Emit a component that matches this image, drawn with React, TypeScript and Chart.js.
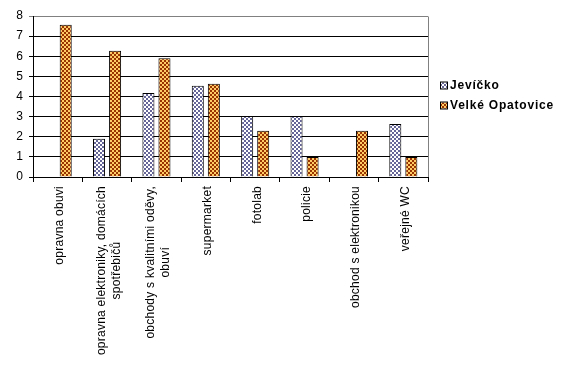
import React, { useEffect, useRef } from "react";
import { Chart, registerables } from "chart.js";

Chart.register(...registerables);

const categories: string[][] = [
  ["opravna obuvi"],
  ["opravna elektroniky, domácích", "spotřebičů"],
  ["obchody s kvalitními oděvy,", "obuví"],
  ["supermarket"],
  ["fotolab"],
  ["policie"],
  ["obchod s elektronikou"],
  ["veřejné WC"],
];
const seriesNames = ["Jevíčko", "Velké Opatovice"];
const jevicko: (number | null)[] = [null, 1.9, 4.17, 4.53, 3.03, 3.03, null, 2.63];
const velkeOpatovice: (number | null)[] = [7.57, 6.27, 5.9, 4.63, 2.3, 1.0, 2.3, 1.0];
const yTicks = [0, 1, 2, 3, 4, 5, 6, 7, 8];

function makeChecker(a: string, b: string): CanvasPattern | string {
  const c = document.createElement("canvas");
  c.width = 4;
  c.height = 4;
  const g = c.getContext("2d");
  if (!g) return a;
  g.fillStyle = a;
  g.fillRect(0, 0, 4, 4);
  g.fillStyle = b;
  g.fillRect(0, 0, 2, 2);
  g.fillRect(2, 2, 2, 2);
  const p = g.createPattern(c, "repeat");
  return p || a;
}

export default function App() {
  const ref = useRef<HTMLCanvasElement | null>(null);

  useEffect(() => {
    if (!ref.current) return;
    const blue = makeChecker("#ffffff", "#666699");
    const brown = makeChecker("#ffcc66", "#993300");

    const labelPlugin = {
      id: "customLabels",
      afterDraw(chart: any) {
        const ctx = chart.ctx as CanvasRenderingContext2D;
        const xs = chart.scales.x;
        const area = chart.chartArea;
        ctx.save();
        // grey plot border right
        ctx.strokeStyle = "#808080";
        ctx.lineWidth = 1;
        ctx.beginPath();
        ctx.moveTo(Math.round(area.right) + 0.5, Math.round(area.top) + 0.5);
        ctx.lineTo(Math.round(area.right) + 0.5, Math.round(area.bottom));
        ctx.stroke();

        // x category labels
        ctx.fillStyle = "#000000";
        ctx.font = "12px 'Liberation Sans', Arial, sans-serif";
        (ctx as any).letterSpacing = "0.25px";
        ctx.textBaseline = "middle";
        ctx.textAlign = "center";
        const lh = 15;
        categories.forEach((lines, i) => {
          const x = xs.getPixelForValue(i);
          const W = Math.max(...lines.map((l) => ctx.measureText(l).width));
          ctx.save();
          ctx.translate(x + 2, xs.top + 9);
          ctx.rotate(-Math.PI / 2);
          lines.forEach((l, j) => {
            ctx.fillText(l, -W / 2, (j - (lines.length - 1) / 2) * lh);
          });
          ctx.restore();
        });

        // legend
        const fills = [blue, brown];
        const lx = 441;
        const ly = [85.5, 105.5];
        ctx.font = "bold 12px 'Liberation Sans', Arial, sans-serif";
        (ctx as any).letterSpacing = "0.8px";
        ctx.textAlign = "left";
        seriesNames.forEach((name, i) => {
          ctx.fillStyle = fills[i] as any;
          ctx.fillRect(lx, ly[i] - 3, 6, 6);
          ctx.strokeStyle = "#000000";
          ctx.strokeRect(lx - 0.5, ly[i] - 3.5, 7, 7);
          ctx.fillStyle = "#000000";
          ctx.fillText(name, 450, ly[i] + 0.5);
        });
        ctx.restore();
      },
    };

    const chart = new Chart(ref.current, {
      type: "bar",
      data: {
        labels: categories,
        datasets: [
          {
            label: seriesNames[0],
            data: jevicko,
            backgroundColor: blue as any,
            borderColor: "#000000",
            borderWidth: 1,
            barPercentage: 0.75,
            categoryPercentage: 0.65,
          },
          {
            label: seriesNames[1],
            data: velkeOpatovice,
            backgroundColor: brown as any,
            borderColor: "#000000",
            borderWidth: 1,
            barPercentage: 0.75,
            categoryPercentage: 0.65,
          },
        ],
      },
      options: {
        responsive: false,
        animation: false,
        layout: { padding: { top: 16, right: 138, bottom: 0, left: 0 } },
        plugins: {
          legend: { display: false },
          tooltip: { enabled: false },
        },
        scales: {
          x: {
            offset: true,
            grid: {
              offset: true,
              drawOnChartArea: false,
              drawTicks: true,
              tickLength: 5,
              color: "#000000",
            },
            border: { display: true, color: "#000000", width: 1 },
            ticks: { color: "rgba(0,0,0,0)", maxRotation: 0, autoSkip: false },
            afterFit: (s: any) => {
              s.height = 196;
            },
          },
          y: {
            min: 0,
            max: 8,
            afterBuildTicks: (s: any) => {
              s.ticks = yTicks.map((v) => ({ value: v }));
            },
            grid: {
              color: (c: any) => (c.tick && c.tick.value === 8 ? "#808080" : "#000000"),
              tickLength: 4,
              lineWidth: 1,
            },
            border: { display: true, color: "#000000", width: 1 },
            ticks: {
              color: "#000000",
              padding: 6,
              font: { family: "'Liberation Sans', Arial, sans-serif", size: 12 },
            },
            afterFit: (s: any) => {
              s.width = 33;
            },
          },
        },
      },
      plugins: [labelPlugin],
    });
    return () => chart.destroy();
  }, []);

  return (
    <div style={{ position: "fixed", left: 0, top: 0, width: 566, height: 373, background: "#ffffff" }}>
      <canvas ref={ref} width={566} height={373} style={{ display: "block" }} />
    </div>
  );
}
